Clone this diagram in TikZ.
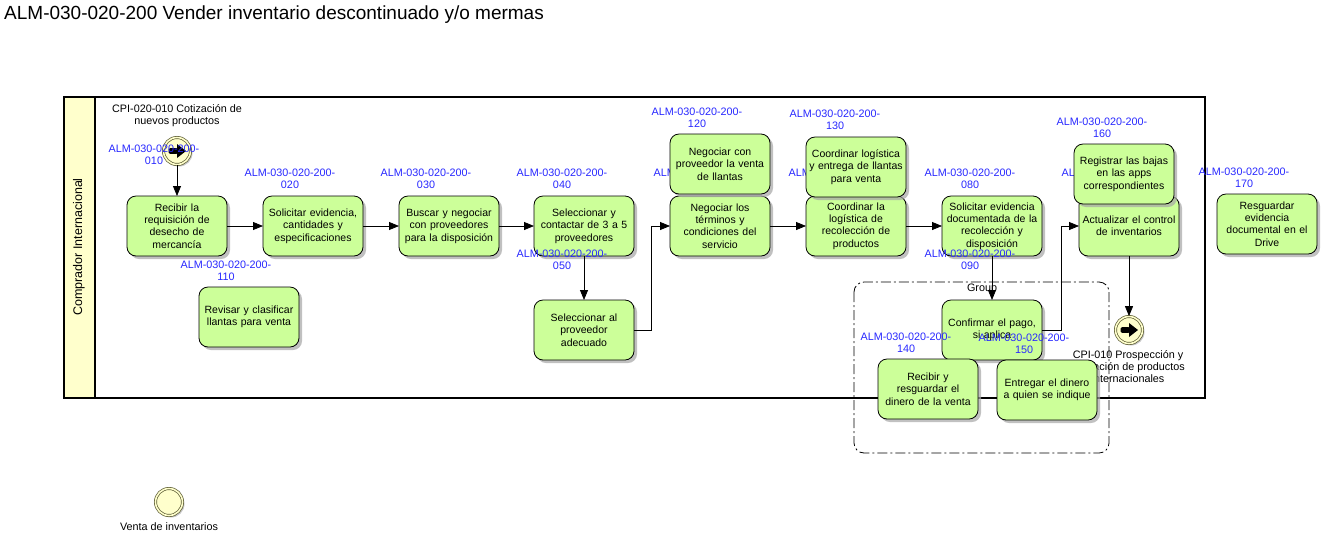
\documentclass[tikz,border=0pt]{standalone}
\usepackage{fontspec}
\setmainfont{Liberation Sans}
\usetikzlibrary{positioning}
\usetikzlibrary{shadows}
\usetikzlibrary{arrows.meta}
\definecolor{taskgreen}{RGB}{204,255,153}
\definecolor{laneyellow}{RGB}{255,255,204}
\definecolor{evfill}{RGB}{255,255,204}
\definecolor{evline}{RGB}{90,90,50}
\definecolor{lblue}{RGB}{40,40,255}

\begin{document}
\begin{tikzpicture}[x=1pt,y=-1pt,
    task/.style={draw,line width=.8pt,rounded corners=9pt,fill=taskgreen,minimum width=100pt,minimum height=60pt,
      text width=98pt,inner sep=1pt,outer sep=0pt,align=center,font=\fontsize{10.5}{12.3}\selectfont,
      drop shadow={shadow xshift=3pt,shadow yshift=-3pt,fill=black!35,opacity=.7}},
    ev/.style={circle,draw=evline,line width=.7pt,double=evfill,double distance=1.6pt,fill=evfill,
      minimum size=27pt,inner sep=0pt,drop shadow={shadow xshift=2pt,shadow yshift=-2pt,fill=black!35,opacity=.6}},
    lbl/.style={text=lblue,align=center,inner sep=0pt,font=\fontsize{10.8}{12}\selectfont},
    txt/.style={align=center,inner sep=0pt,font=\fontsize{10.8}{12}\selectfont},
    flow/.style={line width=.8pt,-{Triangle[length=10pt,width=8pt]}}]
    \useasboundingbox (0,0) rectangle (1322,539);
    \node[anchor=base west,inner sep=0pt,font=\fontsize{19}{22}\selectfont] (titulo) at (4,19.5)
      {ALM-030-020-200 Vender inventario descontinuado y/o mermas};

    % pool y carril
    \draw[line width=1.2pt,fill=white] (64,97) rectangle (1205,398);
    \draw[line width=1.2pt,fill=laneyellow] (64,97) rectangle (95,398);
    \node[rotate=90,inner sep=0pt,font=\fontsize{12.5}{14}\selectfont] (carril) at (79,247) {Comprador Internacional};

    \draw[line width=.8pt,rounded corners=10pt,dash pattern=on 10pt off 3pt on 2pt off 3pt] (854,282) rectangle (1109,453);
    \node[txt] (grupo) at (982,289) {Group};

    % eventos
    \node[ev] (inicio) at (177,151) {};
    \node[txt] (iniciolbl) at (177,116) {CPI-020-010 Cotización de\\nuevos productos};
    \node[ev] (fin) at (1129,330) {};
    \node[txt] (finlbl) at (1128,367) {CPI-010 Prospección y\\cotización de productos\\internacionales};
    \node[ev] (venta) at (169,502) {};
    \node[txt] (ventalbl) at (169,527) {Venta de inventarios};
    \foreach \e in {inicio,fin}{
      \fill[rounded corners=1.5pt] ([shift={(-8.5,-2.8)}]\e.center) rectangle ([shift={(1,2.8)}]\e.center);
      \fill ([shift={(0,-7)}]\e.center) -- ([shift={(9,0)}]\e.center) -- ([shift={(0,7)}]\e.center) -- cycle;
    }

    % tareas
    \node[task] (recibir) at (177,226) {Recibir la\\requisición de\\desecho de\\mercancía};
    \node[task,right=36pt of recibir] (solicitar) {Solicitar evidencia,\\cantidades y\\especificaciones};
    \node[task,right=36pt of solicitar] (buscar) {Buscar y negociar\\con proveedores\\para la disposición};
    \node[task,right=35pt of buscar] (contactar) {Seleccionar y\\contactar de 3 a 5\\proveedores};
    \node[task,below=44pt of contactar] (selprov) {Seleccionar al\\proveedor\\adecuado};
    \node[task,right=36pt of contactar] (negterm) {Negociar los\\términos y\\condiciones del\\servicio};
    \node[task,right=36pt of negterm] (coordrec) {Coordinar la\\logística de\\recolección de\\productos};
    \node[task,right=36pt of coordrec] (evidencia) {Solicitar evidencia\\documentada de la\\recolección y\\disposición};
    \node[task,right=37pt of evidencia] (actual) {Actualizar el control\\de inventarios};
    \node[task] (resguardar) at (1267,224) {Resguardar\\evidencia\\documental en el\\Drive};
    \node[task] (revisar) at (249,317) {Revisar y clasificar\\llantas para venta};
    \node[task] (confirmar) at (992,330) {Confirmar el pago,\\si aplica};
    \node[task] (recdinero) at (928,389) {Recibir y\\resguardar el\\dinero de la venta};
    \node[task] (entregar) at (1047,390) {Entregar el dinero\\a quien se indique};

    \draw[flow] (inicio) -- (recibir);
    \foreach \a/\b in {recibir/solicitar,solicitar/buscar,buscar/contactar,contactar/selprov,
      negterm/coordrec,coordrec/evidencia,evidencia/confirmar,actual/fin}
      \draw[flow] (\a) -- (\b);
    \draw[flow] (selprov.east) -- ++(17,0) |- (negterm.west);
    \draw[flow] (confirmar.east) -- ++(19,0) |- (actual.west);

    % etiquetas
    \foreach \t/\x/\y in {010/154/155,020/290/179,030/426/179,040/562/179,050/562/260,060/699/179,
      070/834/179,080/970/179,090/970/260,100/1107/179,110/226/271,120/697/118,130/835/120,
      140/906/343,150/1024/344,160/1102/128,170/1244/178}
      \node[lbl] (l\t) at (\x,\y) {ALM-030-020-200-\\\t};

    \node[task] (negventa) at (720,164) {Negociar con\\proveedor la venta\\de llantas};
    \node[task] (coordent) at (856,167) {Coordinar logística\\y entrega de llantas\\para venta};
    \node[task] (registrar) at (1124,174) {Registrar las bajas\\en las apps\\correspondientes};
\end{tikzpicture}
\end{document}
